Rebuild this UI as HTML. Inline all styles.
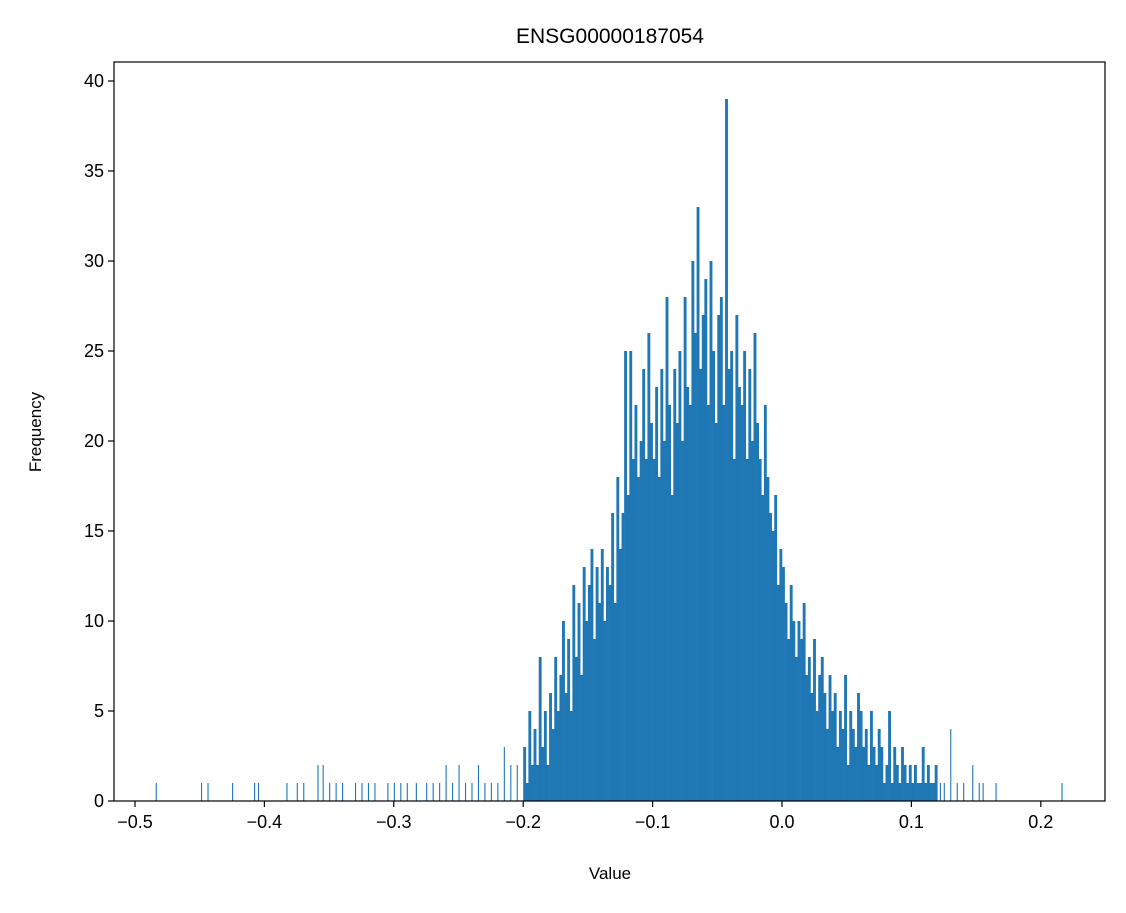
<!DOCTYPE html>
<html><head><meta charset="utf-8"><style>
body{margin:0;background:#fff}
svg text{font-family:"Liberation Sans","DejaVu Sans",sans-serif;fill:#000}
</style></head><body>
<svg id="chart" width="1126" height="908" xmlns="http://www.w3.org/2000/svg">
<rect width="1126" height="908" fill="#fff"/>
<g id="bars"></g>
<g id="axes"></g>
<text x="610" y="43" text-anchor="middle" font-size="21">ENSG00000187054</text>
<text x="610" y="879" text-anchor="middle" font-size="17">Value</text>
<text transform="translate(41,432) rotate(-90)" text-anchor="middle" font-size="17">Frequency</text>
</svg>
<script>
const binStart = -0.2;
const binWidth = 0.002;
const counts = [3,1,5,2,4,2,8,3,5,2,
6,4,8,5,7,10,6,9,5,12,
8,11,7,13,10,12,14,9,13,11,
14,10,13,12,16,11,18,14,16,25,
17,25,19,22,18,20,24,19,26,21,
19,23,18,24,20,28,22,17,24,21,
25,20,28,23,22,30,26,33,24,27,
29,22,30,25,21,27,28,22,39,24,
25,19,27,23,22,25,19,24,20,26,
21,19,17,22,18,16,15,17,12,14,
13,11,9,12,10,8,10,9,11,7,
8,6,9,5,7,8,6,4,7,5,
6,3,5,4,7,2,5,4,3,6,
5,3,4,2,5,3,2,4,3,1,
2,5,1,3,2,1,3,2,1,2,
1,2,1,1,3,1,2,1,1,2];
const tailValues = [-0.484,-0.449,-0.444,-0.425,-0.408,-0.405,-0.383,-0.375,-0.37,-0.359,-0.355,-0.35,-0.345,-0.34,-0.33,-0.325,-0.32,-0.315,-0.305,-0.3,-0.295,-0.29,-0.283,-0.275,-0.27,-0.265,-0.26,-0.255,-0.25,-0.245,-0.24,-0.235,-0.23,-0.225,-0.22,-0.215,-0.21,-0.205,0.122,0.125,0.13,0.135,0.14,0.147,0.152,0.155,0.165,0.216];
const tailCounts = [1,1,1,1,1,1,1,1,1,2,2,1,1,1,1,1,1,1,1,1,1,1,1,1,1,1,2,1,2,1,1,2,1,1,1,3,2,2,1,1,4,1,1,2,1,1,1,1];
const xTicks = [-0.5,-0.4,-0.3,-0.2,-0.1,0.0,0.1,0.2];
const xTickLabels = ["\u22120.5","\u22120.4","\u22120.3","\u22120.2","\u22120.1","0.0","0.1","0.2"];
const yTicks = [0,5,10,15,20,25,30,35,40];

const L=114,R=1105,T=62,B=801;
const xs = v => 782 + v*1294;
const ys = c => B - c*18;
const NS="http://www.w3.org/2000/svg";
const bars=document.getElementById('bars'), axes=document.getElementById('axes');
function mk(tag,attrs,parent){const e=document.createElementNS(NS,tag);for(const k in attrs)e.setAttribute(k,attrs[k]);parent.appendChild(e);return e;}
counts.forEach((c,i)=>{
  const x0=xs(binStart+i*binWidth), x1=xs(binStart+(i+1)*binWidth);
  const r=mk('rect',{x:x0,y:ys(c),width:x1-x0+0.3,height:B-ys(c),fill:'#1f77b4'},bars);
  
  
});
tailValues.forEach((v,i)=>{
  const c=tailCounts[i];
  const r=mk('rect',{x:xs(v),y:ys(c),width:1.1,height:B-ys(c),fill:'#1f77b4'},bars);
  
  
});
const fr=mk('rect',{x:L,y:T,width:R-L,height:B-T,fill:'none',stroke:'#000','stroke-width':1.2},axes);


xTicks.forEach((v,i)=>{
  const x=xs(v);
  mk('line',{x1:x,x2:x,y1:B,y2:B+6,stroke:'#000','stroke-width':1.2},axes);
  const t=mk('text',{x:x,y:B+27,'text-anchor':'middle','font-size':18},axes);
  t.textContent=xTickLabels[i];
  
  
});
yTicks.forEach(v=>{
  const y=ys(v);
  mk('line',{x1:L-6,x2:L,y1:y,y2:y,stroke:'#000','stroke-width':1.2},axes);
  const t=mk('text',{x:L-10,y:y+6,'text-anchor':'end','font-size':18},axes);
  t.textContent=String(v);
  
  
});
</script>
</body></html>
